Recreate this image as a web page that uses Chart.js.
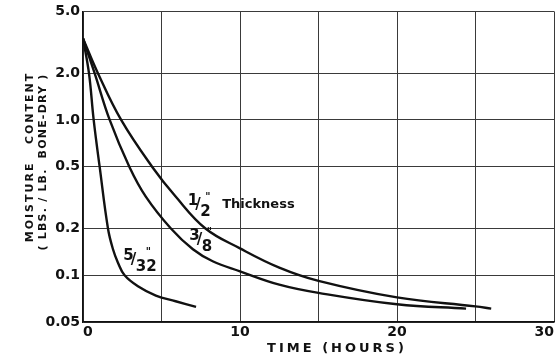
<!DOCTYPE html>
<html>
<head>
<meta charset="utf-8">
<script src="https://cdn.jsdelivr.net/npm/chart.js@4/dist/chart.umd.min.js"></script>
<style>
  body { margin: 0; background: #fff; }
  canvas { display: block; }
</style>
</head>
<body>
<canvas id="dryChart" width="556" height="359"></canvas>
<script>
// drying curves (time in hours, moisture lbs/lb bone-dry)
const halfTime  = [0, 0.95, 2.43, 4.4, 5.9, 7.8, 10, 12.5, 15, 20, 25, 26];
const halfMC    = [3.35, 2.0, 1.0, 0.5, 0.321, 0.2, 0.149, 0.112, 0.092, 0.072, 0.063, 0.061];
const threeTime = [0, 0.74, 1.7, 2.95, 4.0, 5.6, 7.0, 8.26, 10, 12.5, 15, 20, 24.4];
const threeMC   = [3.35, 2.0, 1.0, 0.5, 0.321, 0.2, 0.147, 0.123, 0.106, 0.087, 0.077, 0.065, 0.061];
const fiveTime  = [0, 0.38, 0.68, 1.06, 1.59, 1.91, 2.22, 2.65, 3.5, 4.64, 5.9, 7.2];
const fiveMC    = [3.35, 2.0, 1.0, 0.5, 0.2, 0.147, 0.121, 0.1, 0.085, 0.074, 0.068, 0.0625];

const yTicks = [0.05, 0.1, 0.2, 0.5, 1.0, 2.0, 5.0];
const xLabels = [0, 10, 20, 30];

const curveLabels = [
  { num: "1", den: "2", x: 7.4, y: 0.28, extra: "Thickness" },
  { num: "3", den: "8", x: 7.5, y: 0.166 },
  { num: "5", den: "32", x: 3.3, y: 0.123 }
];

const pts = (xs, ys) => xs.map((x, i) => ({ x: x, y: ys[i] }));
const FONT = "'DejaVu Sans', sans-serif";

const curveStyle = {
  showLine: true,
  borderColor: "#111",
  borderWidth: 2.4,
  pointRadius: 0,
  tension: 0.4,
  fill: false
};

// fraction labels on the curves + spaced axis titles
const labelPlugin = {
  id: "curveLabels",
  afterDatasetsDraw(chart) {
    const c = chart.ctx;
    const xs = chart.scales.x, ys = chart.scales.y;
    c.save();
    c.fillStyle = "#111";
    curveLabels.forEach(l => {
      const px = xs.getPixelForValue(l.x);
      const py = ys.getPixelForValue(l.y);
      c.font = "bold 15px " + FONT;
      c.textBaseline = "alphabetic";
      c.textAlign = "right";
      c.fillText(l.num, px - 1, py - 1);
      c.textAlign = "left";
      c.fillText("/", px - 4, py + 3);
      c.fillText(l.den, px + 1, py + 10);
      c.font = "bold 10px " + FONT;
      c.fillText("\"", px + 6 + (l.den.length - 1) * 5, py - 6);
      if (l.extra) {
        c.font = "bold 13px " + FONT;
        c.fillText(l.extra, px + 23, py + 2);
      }
    });

    c.textAlign = "center";
    c.textBaseline = "middle";
    c.letterSpacing = "3px";
    c.font = "bold 13px " + FONT;
    c.fillText("TIME (HOURS)", 337, 349);

    c.save();
    c.translate(30, 157);
    c.rotate(-Math.PI / 2);
    c.letterSpacing = "2px";
    c.font = "bold 11px " + FONT;
    c.fillText("MOISTURE   CONTENT", 0, 0);
    c.restore();
    c.save();
    c.translate(43, 162);
    c.rotate(-Math.PI / 2);
    c.letterSpacing = "1.2px";
    c.font = "bold 11px " + FONT;
    c.fillText("( LBS. / LB.  BONE-DRY )", 0, 0);
    c.restore();
    c.restore();
  }
};

new Chart(document.getElementById("dryChart"), {
  type: "scatter",
  data: {
    datasets: [
      Object.assign({ label: "1/2\"", data: pts(halfTime, halfMC) }, curveStyle),
      Object.assign({ label: "3/8\"", data: pts(threeTime, threeMC) }, curveStyle),
      Object.assign({ label: "5/32\"", data: pts(fiveTime, fiveMC) }, curveStyle)
    ]
  },
  options: {
    responsive: false,
    animation: false,
    layout: { padding: { top: 11, right: 1, left: 0, bottom: 0 } },
    plugins: { legend: { display: false }, tooltip: { enabled: false } },
    scales: {
      x: {
        type: "linear",
        min: 0,
        max: 30,
        ticks: {
          stepSize: 5,
          color: "#111",
          font: { family: FONT, size: 14, weight: "bold" },
          align: "inner",
          maxRotation: 0,
          padding: 2,
          callback: v => xLabels.includes(v) ? String(v) : ""
        },
        grid: { color: "#3a3a3a", lineWidth: 1, drawTicks: false },
        border: { color: "#111", width: 1.5 },
        afterFit: s => { s.height = 37; }
      },
      y: {
        type: "logarithmic",
        min: 0.05,
        max: 5,
        afterBuildTicks: s => { s.ticks = yTicks.map(v => ({ value: v })); },
        ticks: {
          color: "#111",
          font: { family: FONT, size: 14, weight: "bold" },
          padding: 3,
          callback: v => v < 0.1 ? "0.05" : (v < 1 ? String(v) : v.toFixed(1))
        },
        grid: { color: "#3a3a3a", lineWidth: 1, drawTicks: false },
        border: { color: "#111", width: 1.5 },
        afterFit: s => { s.width = 83; }
      }
    }
  },
  plugins: [labelPlugin]
});
</script>
</body>
</html>
